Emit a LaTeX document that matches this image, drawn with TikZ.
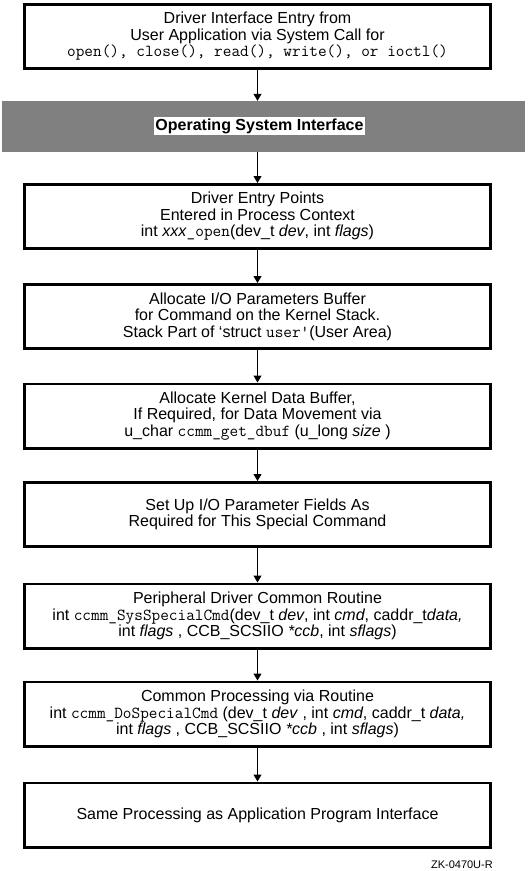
\documentclass[tikz,border=0pt]{standalone}
\usepackage{fontspec}
\setmainfont{Liberation Sans}
\setmonofont{Latin Modern Mono}[Scale=1.05]
\usetikzlibrary{arrows.meta}
\tikzset{
  box/.style={draw, line width=2.6pt, minimum width=466.4pt, minimum height=64.4pt,
    inner sep=0pt, align=center, font=\fontsize{16}{16.5}\selectfont},
  arr/.style={line width=1pt, -{Triangle[length=7pt,width=8pt]}},
  band/.style={fill=black!50, minimum width=523pt, minimum height=51pt, inner sep=0pt},
  bandlabel/.style={fill=white, inner sep=1.5pt, font=\fontsize{16}{16}\selectfont\bfseries},
  tag/.style={font=\fontsize{11}{11}\selectfont, inner sep=0pt, anchor=east}
}
\begin{document}
\begin{tikzpicture}[x=1pt,y=-1pt]
\useasboundingbox (0,0) rectangle (528,871);
\node[box] (b1) at (257.5,36.5) {Driver Interface Entry from\\User Application via System Call for\\\texttt{open(), close(), read(), write(), or ioctl()}};
\node[band] (band) at (263.5,126.5) {};
\node[bandlabel] (osi) at (259.5,126) {Operating System Interface};
\node[box] (b2) at (257.5,216.5) {Driver Entry Points\\Entered in Process Context\\int \textit{xxx}\texttt{\_open}(dev\_t \textit{dev}, int \textit{flags})};
\node[box] (b3) at (257.5,316.5) {Allocate I/O Parameters Buffer\\for Command on the Kernel Stack.\\Stack Part of ‘struct \texttt{user'}(User Area)};
\node[box] (b4) at (257.5,416) {Allocate Kernel Data Buffer,\\If Required, for Data Movement via\\u\_char \texttt{ccmm\_get\_dbuf} (u\_long \textit{size} )};
\node[box] (b5) at (257.5,514.5) {Set Up I/O Parameter Fields As\\Required for This Special Command};
\node[box] (b6) at (257.5,616) {Peripheral Driver Common Routine\\int \texttt{ccmm\_SysSpecialCmd}(dev\_t \textit{dev}, int \textit{cmd}, caddr\_t\textit{data,}\\int \textit{flags} , CCB\_SCSIIO \textit{*ccb}, int \textit{sflags})};
\node[box] (b7) at (257.5,714) {Common Processing via Routine\\int \texttt{ccmm\_DoSpecialCmd} (dev\_t \textit{dev} , int \textit{cmd}, caddr\_t \textit{data,}\\int \textit{flags} , CCB\_SCSIIO \textit{*ccb} , int \textit{sflags})};
\node[box] (b8) at (257.5,815) {Same Processing as Application Program Interface};
\node[tag] (zk) at (493,865) {ZK-0470U-R};
\draw[arr] (b1.south) -- (b1.south |- band.north);
\draw[arr] (b2.north |- band.south) -- (b2.north);
\draw[arr] (b2) -- (b3);
\draw[arr] (b3) -- (b4);
\draw[arr] (b4) -- (b5);
\draw[arr] (b5) -- (b6);
\draw[arr] (b6) -- (b7);
\draw[arr] (b7) -- (b8);
\end{tikzpicture}
\end{document}
